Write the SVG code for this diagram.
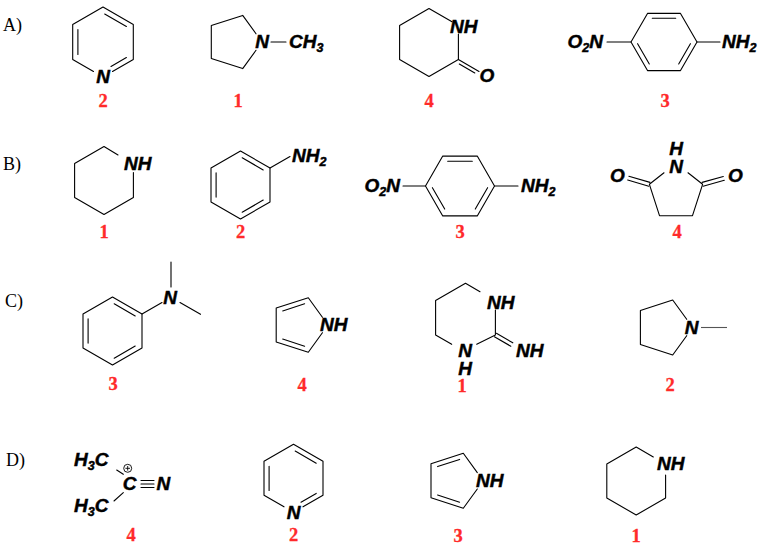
<svg xmlns="http://www.w3.org/2000/svg" width="766" height="554" viewBox="0 0 766 554">
<style>
.bd{stroke:#000;stroke-width:1.1;fill:none;stroke-linecap:round;stroke-linejoin:round}
.at{font-family:"Liberation Sans",Arial,sans-serif;font-weight:bold;font-style:italic;font-size:19px;fill:#000;stroke:#000;stroke-width:0.45}
.mid{text-anchor:middle}
.end{text-anchor:end}
.sub{font-size:12.5px}
.num{font-family:"Liberation Serif","Times New Roman",serif;font-weight:bold;font-size:18.5px;fill:#ff2a2a;stroke:#ff2a2a;stroke-width:0.3;text-anchor:middle}
.row{font-family:"Liberation Serif","Times New Roman",serif;font-size:18px;fill:#000}
</style>
<rect width="766" height="554" fill="#fff"/>
<g id="row-labels">
<text class="row" x="3" y="31">A)</text>
<text class="row" x="3" y="170">B)</text>
<text class="row" x="5" y="307">C)</text>
<text class="row" x="6" y="466">D)</text>
</g>
<!-- Row A -->
<g id="A-pyridine">
<path class="bd" d="M112.5,71.5 L133.3,59.5 L133.3,24.5 L103,7 L72.7,24.5 L72.7,59.5 L93.5,71.5"/>
<path class="bd" d="M104.7,14 L126.4,26.5 M77.9,29.5 L77.9,54.5 M126.4,57.5 L111,66.4"/>
<text class="at mid" x="103" y="83">N</text>
<text class="num" x="103" y="107">2</text>
</g>
<g id="A-methylpyrrolidine">
<path class="bd" d="M256,33.8 L242.7,15.4 L211.3,25.5 L211.3,58.5 L242.7,68.6 L256,50.3 M271,42 L286,42"/>
<text class="at mid" x="262" y="48">N</text>
<text class="at" x="289" y="48">CH<tspan class="sub" dy="4">3</tspan></text>
<text class="num" x="238" y="107">1</text>
</g>
<g id="A-piperidinone">
<path class="bd" d="M452,21.7 L429,8.5 L399.6,25.5 L399.6,59.5 L429,76.5 L458.4,59.5 L458.4,34"/>
<path class="bd" d="M458.4,59.5 L479,71.5 M459.3,64 L474.8,73"/>
<text class="at" x="450" y="33">NH</text>
<text class="at mid" x="487" y="82">O</text>
<text class="num" x="429" y="107">4</text>
</g>
<g id="A-nitroaniline">
<path class="bd" d="M647.5,13.4 L680.5,13.4 L697,42 L680.5,70.6 L647.5,70.6 L631,42 Z"/>
<path class="bd" d="M652.3,18.3 L675.7,18.3 M690.4,43.7 L678.7,64 M637.6,43.7 L649.3,64"/>
<path class="bd" d="M607,42 L631,42 M697,42 L720,42"/>
<text class="at end" x="603" y="48">O<tspan class="sub" dy="4">2</tspan><tspan dy="-4">N</tspan></text>
<text class="at" x="722" y="48">NH<tspan class="sub" dy="4">2</tspan></text>
<text class="num" x="665" y="107">3</text>
</g>
<!-- Row B -->
<g id="B-piperidine">
<path class="bd" d="M118,155 L104,146.5 L74.6,163.5 L74.6,197.5 L104,214.5 L133.4,197.5 L133.4,172.5"/>
<text class="at" x="124" y="170">NH</text>
<text class="num" x="104" y="238">1</text>
</g>
<g id="B-aniline">
<path class="bd" d="M240.5,151 L270,168 L270,202 L240.5,219 L211,202 L211,168 Z"/>
<path class="bd" d="M242.2,157.8 L263.2,169.9 M263.2,200.1 L242.2,212.2 M216.1,172.9 L216.1,197.1"/>
<path class="bd" d="M270,168 L290,156.5"/>
<text class="at" x="292" y="162">NH<tspan class="sub" dy="4">2</tspan></text>
<text class="num" x="240.5" y="238">2</text>
</g>
<g id="B-nitroaniline">
<path class="bd" d="M442.75,156.1 L477.25,156.1 L494.5,186 L477.25,215.9 L442.75,215.9 L425.5,186 Z"/>
<path class="bd" d="M447.7,161.2 L472.3,161.2 M487.6,187.7 L475.3,209.1 M432.4,187.7 L444.7,209.1"/>
<path class="bd" d="M403,186 L425.5,186 M494.5,186 L518,186"/>
<text class="at end" x="400" y="192">O<tspan class="sub" dy="4">2</tspan><tspan dy="-4">N</tspan></text>
<text class="at" x="521" y="192">NH<tspan class="sub" dy="4">2</tspan></text>
<text class="num" x="460" y="238">3</text>
</g>
<g id="B-succinimide">
<path class="bd" d="M664,172.8 L649.4,184.3 L659.5,215.7 L692.5,215.7 L702.6,184.3 L688,172.8"/>
<path class="bd" d="M650,182.4 L628.9,176.2 M648.8,186.2 L627.7,180 M703.1,186.2 L724.3,180.3 M702.1,182.4 L723.3,176.5"/>
<text class="at mid" x="676" y="154.5">H</text>
<text class="at mid" x="676" y="173">N</text>
<text class="at mid" x="617.5" y="181.5">O</text>
<text class="at mid" x="735.5" y="181.5">O</text>
<text class="num" x="677" y="238">4</text>
</g>
<!-- Row C -->
<g id="C-dimethylaniline">
<path class="bd" d="M112.5,297 L142,314 L142,348 L112.5,365 L83,348 L83,314 Z"/>
<path class="bd" d="M114.2,303.8 L135.2,315.9 M135.2,346.1 L114.2,358.2 M88.1,318.9 L88.1,343.1"/>
<path class="bd" d="M142,314 L162,302.5 M171,287 L171,262 M180,302.5 L200.5,314.3"/>
<text class="at mid" x="170" y="303.5">N</text>
<text class="num" x="113" y="390">3</text>
</g>
<g id="C-pyrrole">
<path class="bd" d="M322.4,317.3 L308.3,297.7 L276.2,308.1 L276.2,341.9 L308.3,352.3 L322.4,332.7"/>
<path class="bd" d="M282.7,310.9 L304.6,303.7 M282.7,339.1 L304.6,346.3"/>
<text class="at" x="320" y="331">NH</text>
<text class="num" x="302" y="391">4</text>
</g>
<g id="C-guanidine">
<path class="bd" d="M480,291.7 L465.5,283.3 L435.6,300.55 L435.6,335.05 L451.7,344.3"/>
<path class="bd" d="M476.7,344.3 L495.4,335.05 L495.4,310"/>
<path class="bd" d="M494.4,336.8 L510.8,346.2 M496.4,333.3 L512.8,342.8"/>
<text class="at" x="487" y="308.5">NH</text>
<text class="at mid" x="465" y="357">N</text>
<text class="at mid" x="465" y="375">H</text>
<text class="at" x="516" y="357">NH</text>
<text class="num" x="462" y="392">1</text>
</g>
<g id="C-methylpyrrolidine">
<path class="bd" d="M686.7,319.3 L672.7,300 L640.4,310.5 L640.4,344.5 L672.7,355 L686.7,335.7"/>
<path d="M701,327.5 L727,327.5" stroke="#555" stroke-width="1.1" fill="none"/>
<text class="at mid" x="691.7" y="333.5">N</text>
<text class="num" x="670" y="391">2</text>
</g>
<!-- Row D -->
<g id="D-nitrilium">
<path class="bd" d="M116.7,470 L123.3,474.3 M114,501 L123.3,492.7"/>
<path class="bd" d="M141,480.5 L154,480.5 M141,484 L154,484 M141,487.5 L154,487.5"/>
<circle cx="127.7" cy="468.3" r="4" fill="none" stroke="#000" stroke-width="0.9"/>
<path d="M125.4,468.3 L130,468.3 M127.7,466 L127.7,470.6" stroke="#000" stroke-width="0.9"/>
<text class="at" x="74" y="466">H<tspan class="sub" dy="4">3</tspan><tspan dy="-4">C</tspan></text>
<text class="at" x="74" y="512">H<tspan class="sub" dy="4">3</tspan><tspan dy="-4">C</tspan></text>
<text class="at mid" x="129.5" y="490">C</text>
<text class="at mid" x="163.3" y="490">N</text>
<text class="num" x="131" y="541">4</text>
</g>
<g id="D-pyridine">
<path class="bd" d="M303,506.8 L323,495.3 L323,461.3 L293.5,444.3 L264,461.3 L264,495.3 L284,506.8"/>
<path class="bd" d="M295.2,451.1 L316.2,463.2 M269.1,466.2 L269.1,490.4 M316.2,493.4 L301,502.2"/>
<text class="at mid" x="293.5" y="518.5">N</text>
<text class="num" x="293.5" y="541">2</text>
</g>
<g id="D-pyrrole">
<path class="bd" d="M477.3,472.6 L463.3,453.3 L431,463.8 L431,497.8 L463.3,508.3 L477.3,489"/>
<path class="bd" d="M437.6,466.6 L459.6,459.4 M437.6,495 L459.6,502.2"/>
<text class="at" x="476" y="487">NH</text>
<text class="num" x="458" y="542">3</text>
</g>
<g id="D-piperidine">
<path class="bd" d="M653.3,456.9 L636.2,447 L606.8,464 L606.8,498 L636.2,515 L665.6,498 L665.6,475"/>
<text class="at" x="657" y="470">NH</text>
<text class="num" x="636" y="542">1</text>
</g>
</svg>
